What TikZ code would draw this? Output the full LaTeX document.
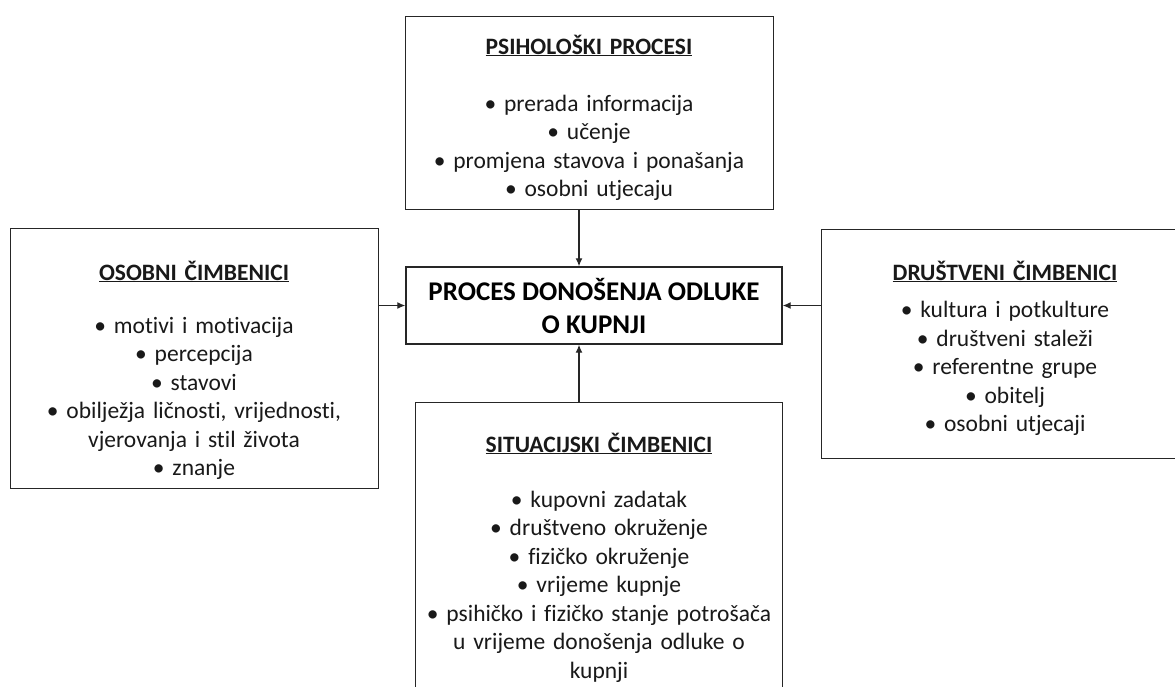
\documentclass[tikz,border=0pt]{standalone}
\usepackage{fontspec}
\setmainfont{Carlito}[Ligatures=NoCommon]
\usetikzlibrary{arrows.meta}
\tikzset{
    RA1/.style ={rectangle, draw=black!85, line width=1.4pt, anchor=north west, inner sep=0pt},
    RA2/.style ={rectangle, draw=black!85, line width=1.4pt, inner sep=0pt, align=center, text=black,
                 font=\fontsize{27}{33}\selectfont\bfseries},
    TX/.style ={anchor=base, text width=360pt, align=center, inner sep=0pt, text=black!90,
                font=\fontsize{23.5}{28.5}\selectfont},
    AR/.style ={-{Latex[length=8pt,width=7pt]}, line width=1.3pt, black!85}}
\newcommand\hd[1]{{\bfseries\fontsize{23.5}{28.5}\selectfont\underline{#1}}}

\begin{document}
\begin{tikzpicture}[x=1pt,y=-1pt]
        \useasboundingbox[fill=white] (0,0) rectangle (1175,686);
        \clip (0,0) rectangle (1175,686);
        \node[RA1, minimum width=368pt, minimum height=193pt] (1) at (405,16) {};
        \node[RA1, minimum width=368pt, minimum height=260pt] (2) at (10,228) {};
        \node[RA1, minimum width=376pt, minimum height=229pt] (3) at (821,229) {};
        \node[RA1, minimum width=367pt, minimum height=330pt] (4) at (415,402) {};
        \node[RA2, minimum width=376pt, minimum height=77pt] (0) at (594,305.5)
            {PROCES DONOŠENJA ODLUKE\\O KUPNJI};
        \node[TX] (1a) at (589,54) {\hd{PSIHOLOŠKI PROCESI}\\[28.5pt]
            \textbullet{} prerada informacija\\ \textbullet{} učenje\\
            \textbullet{} promjena stavova i ponašanja\\ \textbullet{} osobni utjecaju};
        \node[TX] (2a) at (194,280) {\hd{OSOBNI ČIMBENICI}\\[24.5pt]
            \textbullet{} motivi i motivacija\\ \textbullet{} percepcija\\ \textbullet{} stavovi\\
            \textbullet{} obilježja ličnosti, vrijednosti,\\ vjerovanja i stil života\\
            \textbullet{} znanje};
        \node[TX] (3a) at (1005,280) {\hd{DRUŠTVENI ČIMBENICI}\\[9pt]
            \textbullet{} kultura i potkulture\\ \textbullet{} društveni staleži\\
            \textbullet{} referentne grupe\\ \textbullet{} obitelj\\ \textbullet{} osobni utjecaji};
        \node[TX] (4a) at (599,452) {\hd{SITUACIJSKI ČIMBENICI}\\[26.5pt]
            \textbullet{} kupovni zadatak\\ \textbullet{} društveno okruženje\\
            \textbullet{} fizičko okruženje\\ \textbullet{} vrijeme kupnje\\
            \textbullet{} psihičko i fizičko stanje potrošača\\ u vrijeme donošenja odluke o\\ kupnji};
        \coordinate (ax) at (579,0);
        \draw[AR] (1.south -| ax) -- (0.north -| ax);
        \draw[AR] (4.north -| ax) -- (0.south -| ax);
        \draw[AR] (2.east |- 0.west) -- (0.west);
        \draw[AR] (3.west |- 0.east) -- (0.east);
    \end{tikzpicture}
\end{document}
